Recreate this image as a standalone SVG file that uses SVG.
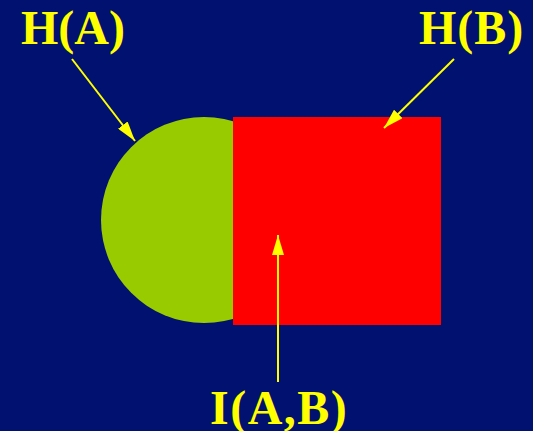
<svg xmlns="http://www.w3.org/2000/svg" width="533" height="431" viewBox="0 0 533 431">
<style>
.lbl{font-family:"Liberation Serif","Times New Roman",serif;font-weight:bold;font-size:48px;fill:#FFFF00}
.con{stroke:#FFFF00;stroke-width:2;fill:none}
</style>
<defs>
<marker id="ah" viewBox="0 0 20 12" refX="20" refY="6" markerWidth="20" markerHeight="12" markerUnits="userSpaceOnUse" orient="auto">
<path d="M0,0 L20,6 L0,12 Z" fill="#FFFF00"/>
</marker>
</defs>
<rect width="533" height="431" fill="#001170"/>
<g id="setA"><circle cx="204" cy="220" r="103" fill="#99CC00"/></g>
<g id="setB"><rect x="233" y="117" width="208" height="208" fill="#FF0000"/></g>
<g id="labelHA"><text class="lbl" x="21" y="44">H(A)</text></g>
<g id="labelHB"><text class="lbl" x="419" y="44" letter-spacing="1">H(B)</text></g>
<g id="labelIAB"><text class="lbl" x="210" y="424" letter-spacing="1.5">I(A,B)</text></g>
<g id="connectors">
<line class="con" x1="72" y1="59" x2="135" y2="141" marker-end="url(#ah)"/>
<line class="con" x1="454" y1="59" x2="384" y2="128" marker-end="url(#ah)"/>
<line class="con" x1="278" y1="382" x2="278" y2="235" marker-end="url(#ah)"/>
</g>
</svg>
